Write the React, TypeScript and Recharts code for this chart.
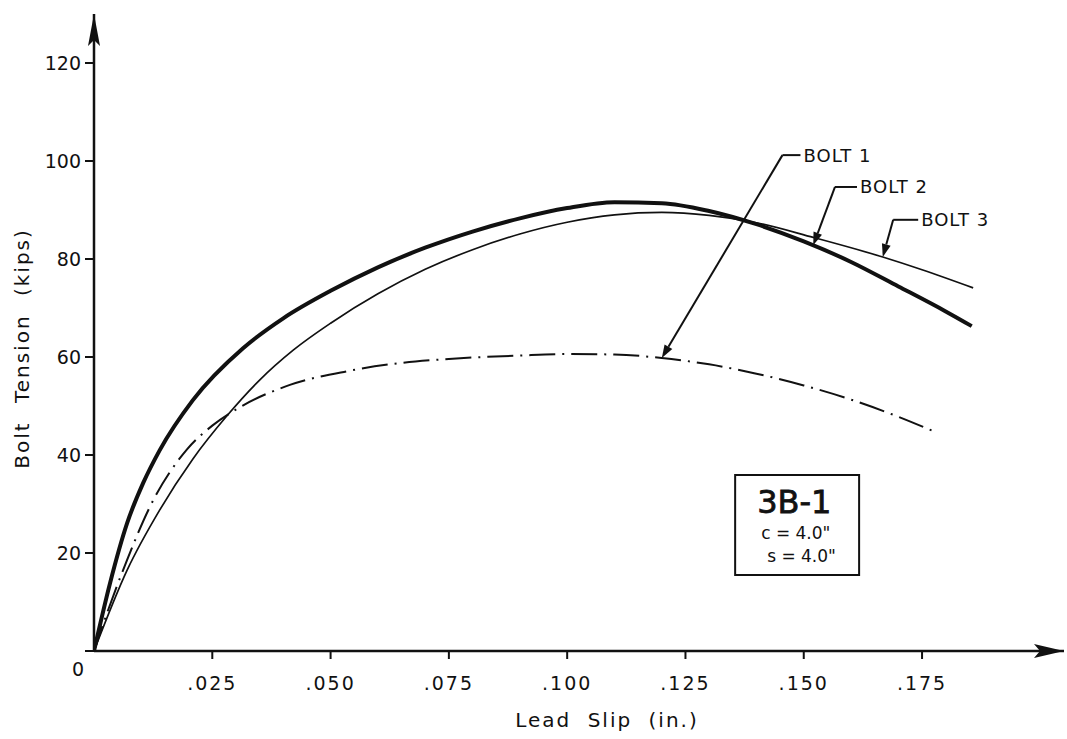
import React from 'react';
import {
  LineChart,
  Line,
  XAxis,
  YAxis,
  ReferenceLine,
  ReferenceDot,
  ReferenceArea,
} from 'recharts';

// ---- data (lead slip in inches, bolt tension in kips) ----
const bolt1X = [0, 0.0027, 0.007, 0.0118, 0.0197, 0.025, 0.0302, 0.0414, 0.0535, 0.065, 0.075, 0.09, 0.1, 0.11, 0.12, 0.13, 0.14, 0.15, 0.16, 0.17, 0.178];
const bolt1Y = [0, 7.6, 18.6, 29.4, 41.2, 46.0, 49.4, 54.3, 57.1, 58.8, 59.6, 60.3, 60.6, 60.5, 59.8, 58.5, 56.6, 54.2, 51.3, 47.8, 44.6];

const bolt2X = [0, 0.0034, 0.007, 0.0104, 0.0139, 0.0209, 0.0315, 0.04, 0.05, 0.06, 0.07, 0.08, 0.09, 0.1, 0.11, 0.12, 0.13, 0.14, 0.15, 0.16, 0.17, 0.18, 0.1855];
const bolt2Y = [0, 13.9, 26.1, 34.3, 41.0, 51.2, 61.8, 67.9, 73.5, 78.3, 82.3, 85.6, 88.3, 90.4, 91.6, 91.4, 89.8, 87.1, 83.6, 79.4, 74.4, 69.3, 66.3];

const bolt3X = [0, 0.007, 0.0139, 0.0209, 0.0281, 0.035, 0.0421, 0.05, 0.06, 0.07, 0.08, 0.09, 0.1, 0.11, 0.12, 0.13, 0.14, 0.152, 0.1667, 0.175, 0.1858];
const bolt3Y = [0, 16.5, 28.8, 39.2, 48.0, 55.3, 61.4, 66.9, 72.9, 77.9, 81.9, 85.1, 87.5, 89.0, 89.5, 88.9, 87.4, 84.4, 80.4, 77.8, 74.1];

const xTicks = [0.025, 0.05, 0.075, 0.1, 0.125, 0.15, 0.175];
const yTicks = [0, 20, 40, 60, 80, 100, 120];
const xDomain = [0, 0.205];
const yDomain = [0, 130];

// leader annotations: label, arrow tip on curve, knee of the leader
const leaderLabels = ['BOLT 1', 'BOLT 2', 'BOLT 3'];
const leaderTips = [
  { x: 0.12, y: 59.8 },
  { x: 0.152, y: 82.8 },
  { x: 0.1667, y: 80.4 },
];
const leaderKnees = [
  { x: 0.1455, y: 101.2 },
  { x: 0.1566, y: 94.7 },
  { x: 0.1689, y: 88.0 },
];

const boxTitle = '3B-1';
const boxLines = ['c = 4.0"', 's = 4.0"'];
const boxX = [0.1355, 0.1617];
const boxY = [15.5, 35.9];

const toPts = (xs: number[], ys: number[]) => xs.map((x, i) => ({ x, y: ys[i] }));
const bolt1 = toPts(bolt1X, bolt1Y);
const bolt2 = toPts(bolt2X, bolt2Y);
const bolt3 = toPts(bolt3X, bolt3Y);

const FONT = '"DejaVu Sans", "Liberation Sans", sans-serif';
const INK = '#111';

const fmtX = (v: number) => v.toFixed(3).replace(/^0/, '');

const XTick = (p: any) => {
  const { x, y, payload } = p;
  return (
    <text x={x} y={y} dy="0.71em" textAnchor="middle" fontFamily={FONT} fontSize={19} letterSpacing={2} fill={INK}>
      {fmtX(payload.value)}
    </text>
  );
};

const YTick = (p: any) => {
  const { x, y, payload } = p;
  const zero = payload.value === 0;
  return (
    <text x={zero ? x + 3 : x} y={zero ? y + 18 : y} dy="0.36em" textAnchor="end" fontFamily={FONT} fontSize={19} fill={INK}>
      {payload.value}
    </text>
  );
};

const makeLeader = (label: string, horiz: number) => (p: any) => {
  const { x1, y1, x2, y2 } = p;
  const ang = Math.atan2(y1 - y2, x1 - x2);
  const len = 13;
  const hw = 4.5;
  const bx = x1 - len * Math.cos(ang);
  const by = y1 - len * Math.sin(ang);
  const nx = -Math.sin(ang);
  const ny = Math.cos(ang);
  const head = `${x1},${y1} ${bx + nx * hw},${by + ny * hw} ${bx - nx * hw},${by - ny * hw}`;
  return (
    <g>
      <line x1={x2} y1={y2} x2={bx} y2={by} stroke={INK} strokeWidth={2} />
      <polygon points={head} fill={INK} />
      <line x1={x2} y1={y2} x2={x2 + horiz} y2={y2} stroke={INK} strokeWidth={2} />
      <text x={x2 + horiz + 3} y={y2} dy="0.36em" fontFamily={FONT} fontSize={18} letterSpacing={1} fill={INK}>
        {label}
      </text>
    </g>
  );
};

const leaderHoriz = [18, 22, 25];

const XArrow = (p: any) => {
  const { cx, cy } = p;
  return <polygon points={`${cx},${cy} ${cx - 30},${cy - 7} ${cx - 24},${cy} ${cx - 30},${cy + 7}`} fill={INK} />;
};
const YArrow = (p: any) => {
  const { cx, cy } = p;
  return <polygon points={`${cx},${cy} ${cx - 6},${cy + 32} ${cx},${cy + 26} ${cx + 6},${cy + 32}`} fill={INK} />;
};

const BoxLabel = (p: any) => {
  const vb = p.viewBox;
  const x = vb.x;
  const y = vb.y;
  return (
    <g fontFamily={FONT} fill={INK}>
      <text x={x + 22} y={y + 38} fontSize={32} stroke={INK} strokeWidth={0.8}>
        {boxTitle}
      </text>
      <text x={x + 26} y={y + 64} fontSize={17}>
        {boxLines[0]}
      </text>
      <text x={x + 32} y={y + 87} fontSize={17}>
        {boxLines[1]}
      </text>
    </g>
  );
};

const XTitle = (p: any) => {
  const vb = p.viewBox;
  return (
    <text x={vb.x + vb.width / 2 + 28} y={vb.y + 76} textAnchor="middle" fontFamily={FONT} fontSize={20} letterSpacing={2} wordSpacing={8} fill={INK}>
      Lead Slip (in.)
    </text>
  );
};

const YTitle = (p: any) => {
  const vb = p.viewBox;
  const cx = 22;
  const cy = vb.y + vb.height / 2 + 16;
  return (
    <text x={cx} y={cy} transform={`rotate(-90, ${cx}, ${cy})`} dy="0.36em" textAnchor="middle" fontFamily={FONT} fontSize={20} letterSpacing={2} wordSpacing={10} fill={INK}>
      Bolt Tension (kips)
    </text>
  );
};

export default function App() {
  return (
    <div style={{ position: 'absolute', left: 0, top: 0, width: 1067, height: 739, background: '#fff' }}>
      <LineChart width={1067} height={739} margin={{ top: 14, right: 3, bottom: 0, left: 0 }}>
        <XAxis
          type="number"
          dataKey="x"
          domain={xDomain}
          ticks={xTicks}
          allowDataOverflow
          height={88}
          axisLine={{ stroke: INK, strokeWidth: 2.5 }}
          tickLine={{ stroke: INK, strokeWidth: 2 }}
          tickSize={8}
          tickMargin={18}
          tick={<XTick />}
          label={<XTitle />}
        />
        <YAxis
          type="number"
          dataKey="y"
          domain={yDomain}
          ticks={yTicks}
          allowDataOverflow
          width={94}
          axisLine={{ stroke: INK, strokeWidth: 2.5 }}
          tickLine={{ stroke: INK, strokeWidth: 2 }}
          tickSize={9}
          tickMargin={4}
          tick={<YTick />}
          label={<YTitle />}
        />
        <Line data={bolt3} dataKey="y" type="monotone" stroke={INK} strokeWidth={1.7} dot={false} activeDot={false} isAnimationActive={false} />
        <Line data={bolt1} dataKey="y" type="monotone" stroke={INK} strokeWidth={2} strokeDasharray="26 7 2 7" dot={false} activeDot={false} isAnimationActive={false} />
        <Line data={bolt2} dataKey="y" type="monotone" stroke={INK} strokeWidth={4} dot={false} activeDot={false} isAnimationActive={false} />
        {leaderLabels.map((lab, i) => (
          <ReferenceLine
            key={lab}
            segment={[leaderTips[i], leaderKnees[i]]}
            ifOverflow="visible"
            shape={makeLeader(lab, leaderHoriz[i])}
          />
        ))}
        <ReferenceArea
          x1={boxX[0]}
          x2={boxX[1]}
          y1={boxY[0]}
          y2={boxY[1]}
          stroke={INK}
          strokeWidth={2}
          fill="#fff"
          fillOpacity={1}
          ifOverflow="visible"
          label={<BoxLabel />}
        />
        <ReferenceDot x={xDomain[1]} y={0} ifOverflow="visible" shape={<XArrow />} />
        <ReferenceDot x={0} y={yDomain[1]} ifOverflow="visible" shape={<YArrow />} />
      </LineChart>
    </div>
  );
}
